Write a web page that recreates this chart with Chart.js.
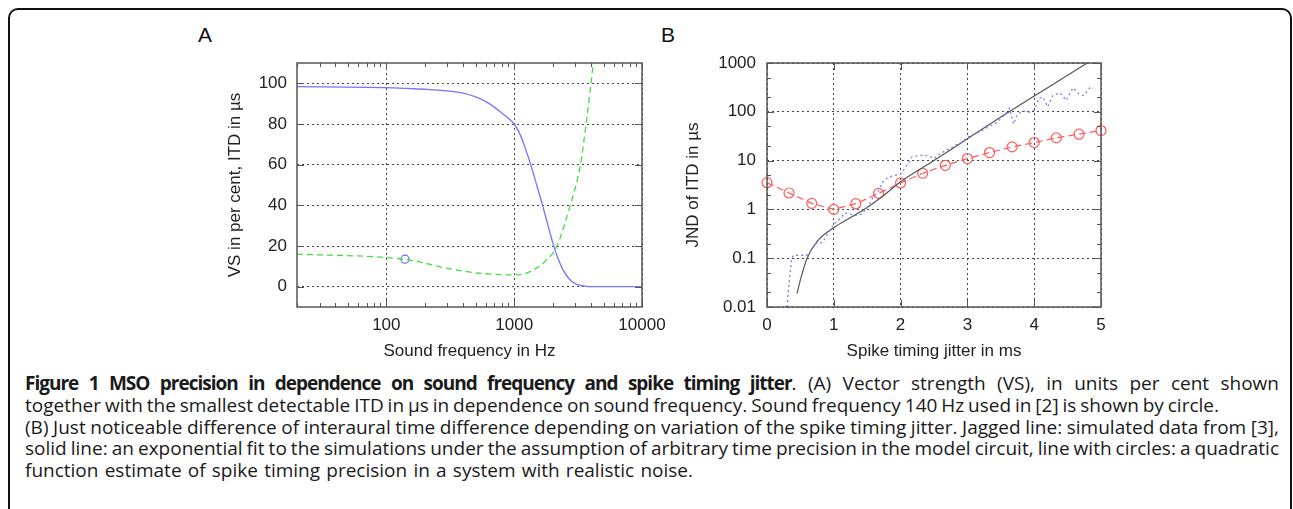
<!DOCTYPE html>
<html>
<head>
<meta charset="utf-8">
<script src="https://cdn.jsdelivr.net/npm/chart.js@4.4.1/dist/chart.umd.min.js"></script>
<style>
  body {
    margin: 0;
    width: 1293px;
    height: 509px;
    position: relative;
    overflow: hidden;
    background: #fff;
    font-family: "Liberation Sans", Arial, sans-serif;
  }
  .frame {
    position: absolute;
    left: 8px;
    top: 8px;
    width: 1284px;
    height: 540px;
    box-sizing: border-box;
    border: 2px solid #111;
    border-radius: 10px;
  }
  .panel {
    position: absolute;
    top: 24px;
    font-size: 21px;
    line-height: 21px;
    color: #111;
  }
  canvas {
    position: absolute;
  }
  #caption {
    position: absolute;
    left: 25px;
    top: 373px;
    font-family: "Open Sans", sans-serif;
    font-size: 19px;
    line-height: 21.8px;
    word-spacing: -1.5px;
    color: #1a1a1a;
  }
  #caption div {
    white-space: nowrap;
    text-align: justify;
    text-align-last: justify;
  }
  #caption b {
    letter-spacing: -1px;
  }
</style>
</head>
<body>
<div class="frame"></div>
<div class="panel" style="left:198px">A</div>
<div class="panel" style="left:661px">B</div>
<canvas id="chartA" width="480" height="330" style="left:200px;top:40px"></canvas>
<canvas id="chartB" width="460" height="330" style="left:670px;top:40px"></canvas>
<div id="caption">
  <div style="width:1254px"><b>Figure 1 MSO precision in dependence on sound frequency and spike timing jitter</b>. (A) Vector strength (VS), in units per cent shown</div>
  <div style="width:1194px">together with the smallest detectable ITD in µs in dependence on sound frequency. Sound frequency 140 Hz used in [2] is shown by circle.</div>
  <div style="width:1254px">(B) Just noticeable difference of interaural time difference depending on variation of the spike timing jitter. Jagged line: simulated data from [3],</div>
  <div style="width:1254px">solid line: an exponential fit to the simulations under the assumption of arbitrary time precision in the model circuit, line with circles: a quadratic</div>
  <div style="width:668px">function estimate of spike timing precision in a system with realistic noise.</div>
</div>
<script>
// panel A: vector strength and ITD vs sound frequency
const freqVS = [20, 100, 200, 300, 400, 500, 600, 700, 800, 900, 1000, 1100, 1200, 1300, 1400, 1500, 1600, 1700, 1800, 1900, 2000, 2100, 2200, 2400, 2600, 2800, 3000, 3300, 3700, 4500, 10000];
const vsValues = [98.4, 97.9, 97.1, 96.3, 95.2, 93.3, 91.0, 88.3, 85.4, 82.8, 80.0, 75.5, 69.5, 63.0, 56.5, 50.0, 44.0, 38.0, 32.3, 26.8, 21.8, 17.5, 14.0, 8.5, 5.0, 2.8, 1.5, 0.6, 0.15, 0, 0];
const freqITD = [20, 100, 162, 295, 538, 1000, 1330, 1800, 2150, 2730, 3280, 3690, 4160, 4400];
const itdValues = [16.0, 14.3, 12.8, 9.1, 6.6, 5.8, 7.4, 13.2, 19.7, 39.5, 59.2, 82.2, 110, 125];
const markerFreq = [140];
const markerITD = [13.5];

const xTicksA = [100, 1000, 10000];
const xMinorA = [20, 30, 40, 50, 60, 70, 80, 90, 200, 300, 400, 500, 600, 700, 800, 900, 2000, 3000, 4000, 5000, 6000, 7000, 8000, 9000];
const yTicksA = [0, 20, 40, 60, 80, 100];

// panel B: JND of ITD vs spike timing jitter
const jitterSim = [0.30, 0.33, 0.37, 0.40, 0.60, 0.67, 0.73, 0.83, 0.90, 1.00, 1.08, 1.17, 1.25, 1.33, 1.42, 1.50, 1.58, 1.67, 1.75, 1.83, 1.92, 2.00, 2.08, 2.17, 2.25, 2.33, 2.42, 2.50, 2.58, 2.67, 2.75, 2.83, 2.92, 3.00, 3.08, 3.17, 3.25, 3.33, 3.42, 3.50, 3.58, 3.63, 3.69, 3.75, 3.83, 3.92, 4.00, 4.07, 4.13, 4.20, 4.28, 4.38, 4.48, 4.58, 4.66, 4.74, 4.84, 4.88];
const jndSim = [0.01, 0.03, 0.1, 0.115, 0.115, 0.15, 0.2, 0.21, 0.3, 0.5, 0.62, 0.85, 0.8, 0.75, 0.8, 1.1, 1.7, 2.4, 4.0, 4.6, 5.0, 5.3, 7.5, 12.0, 12.5, 13.0, 12.5, 11.0, 13.5, 16.0, 18.0, 21.0, 24.0, 30.0, 34.0, 38.0, 44.0, 50.0, 58.0, 72.0, 95.0, 118.0, 56.0, 88.0, 105.0, 98.0, 108.0, 190.0, 200.0, 126.0, 215.0, 245.0, 172.0, 310.0, 240.0, 215.0, 320.0, 300.0];
const jitterFit = [0.45, 0.5, 0.6, 0.75, 1.0, 1.25, 1.5, 1.75, 2.0, 2.5, 3.0, 3.5, 4.0, 4.5, 5.0];
const jndFit = [0.019, 0.036, 0.1, 0.22, 0.42, 0.68, 1.1, 1.95, 3.7, 10, 28, 78, 210, 560, 1500];
const jitterQuad = [0, 0.33, 0.67, 1.0, 1.33, 1.67, 2.0, 2.33, 2.67, 3.0, 3.33, 3.67, 4.0, 4.33, 4.67, 5.0];
const jndQuad = [3.53, 2.17, 1.33, 1.0, 1.31, 2.13, 3.48, 5.5, 8.0, 11.0, 14.6, 19.1, 23.4, 29.2, 34.8, 41.3];

const xTicksB = [0, 1, 2, 3, 4, 5];
const yTicksB = [0.01, 0.1, 1, 10, 100, 1000];
const yMinorB = [0.02, 0.05, 0.2, 0.5, 2, 5, 20, 50, 200, 500];

const toPoints = (xs, ys) => xs.map((x, i) => ({ x: x, y: ys[i] }));

Chart.defaults.font.family = "'Liberation Sans', Arial, sans-serif";
Chart.defaults.font.size = 17;
Chart.defaults.color = "#222";

// frame + inward tick marks like gnuplot
const frameTicks = {
  id: "frameTicks",
  afterDraw(chart, args, opts) {
    const { ctx, chartArea: a, scales } = chart;
    ctx.save();
    ctx.strokeStyle = "#555";
    ctx.lineWidth = 1;
    const xMarks = (vals, len) => {
      (vals || []).forEach((v) => {
        const px = Math.round(scales.x.getPixelForValue(v)) + 0.5;
        ctx.beginPath();
        ctx.moveTo(px, a.bottom);
        ctx.lineTo(px, a.bottom - len);
        ctx.moveTo(px, a.top);
        ctx.lineTo(px, a.top + len);
        ctx.stroke();
      });
    };
    const yMarks = (vals, len) => {
      (vals || []).forEach((v) => {
        const py = Math.round(scales.y.getPixelForValue(v)) + 0.5;
        ctx.beginPath();
        ctx.moveTo(a.left, py);
        ctx.lineTo(a.left + len, py);
        ctx.moveTo(a.right, py);
        ctx.lineTo(a.right - len, py);
        ctx.stroke();
      });
    };
    xMarks(opts.xMajor, 7);
    xMarks(opts.xMinor, 4);
    yMarks(opts.yMajor, 7);
    yMarks(opts.yMinor, 4);
    ctx.lineWidth = 1.5;
    ctx.strokeRect(a.left, a.top, a.width, a.height);
    ctx.restore();
  },
};

const gridOpts = { color: "#444", lineWidth: 1, drawTicks: false };
const borderOpts = { display: false, dash: [2, 3] };

new Chart(document.getElementById("chartA"), {
  type: "line",
  data: {
    datasets: [
      {
        data: toPoints(freqVS, vsValues),
        borderColor: "#7474ff",
        borderWidth: 1.3,
        pointRadius: 0,
        cubicInterpolationMode: "monotone",
      },
      {
        data: toPoints(freqITD, itdValues),
        borderColor: "#3ee03e",
        borderWidth: 1.3,
        borderDash: [6, 4],
        pointRadius: 0,
        cubicInterpolationMode: "monotone",
      },
      {
        data: toPoints(markerFreq, markerITD),
        showLine: false,
        pointRadius: 4,
        pointBorderWidth: 1.2,
        pointBorderColor: "#6a6aff",
        pointBackgroundColor: "rgba(0,0,0,0)",
      },
    ],
  },
  options: {
    responsive: false,
    animation: false,
    devicePixelRatio: 1,
    layout: { padding: { top: 23, right: 38, left: 0, bottom: 0 } },
    scales: {
      x: {
        type: "logarithmic",
        min: 20,
        max: 10000,
        afterBuildTicks: (s) => { s.ticks = xTicksA.map((v) => ({ value: v })); },
        afterFit: (s) => { s.height = 63; },
        ticks: { padding: 8, maxRotation: 0, callback: (v) => String(v) },
        grid: gridOpts,
        border: borderOpts,
        title: { display: true, text: "Sound frequency in Hz", padding: { top: 0, bottom: 8 } },
      },
      y: {
        type: "linear",
        min: -10,
        max: 110,
        afterBuildTicks: (s) => { s.ticks = yTicksA.map((v) => ({ value: v })); },
        afterFit: (s) => { s.width = 97; },
        ticks: { padding: 10, callback: (v) => String(v) },
        grid: gridOpts,
        border: borderOpts,
        title: { display: true, text: "VS in per cent, ITD in µs", padding: { top: 25, bottom: 0 } },
      },
    },
    plugins: {
      legend: { display: false },
      tooltip: { enabled: false },
      frameTicks: { xMajor: xTicksA, xMinor: xMinorA, yMajor: yTicksA },
    },
  },
  plugins: [frameTicks],
});

new Chart(document.getElementById("chartB"), {
  type: "line",
  data: {
    datasets: [
      {
        data: toPoints(jitterSim, jndSim),
        borderColor: "#7a7aff",
        borderWidth: 1.3,
        borderDash: [2, 3],
        pointRadius: 0,
      },
      {
        data: toPoints(jitterFit, jndFit),
        borderColor: "#555",
        borderWidth: 1.2,
        pointRadius: 0,
        cubicInterpolationMode: "monotone",
      },
      {
        data: toPoints(jitterQuad, jndQuad),
        borderColor: "#ff5a5a",
        borderWidth: 1.2,
        borderDash: [7, 4],
        pointRadius: 5,
        pointBorderWidth: 1.2,
        pointBorderColor: "#ff5a5a",
        pointBackgroundColor: "rgba(0,0,0,0)",
        clip: false,
      },
    ],
  },
  options: {
    responsive: false,
    animation: false,
    devicePixelRatio: 1,
    layout: { padding: { top: 23, right: 29, left: 0, bottom: 0 } },
    scales: {
      x: {
        type: "linear",
        min: 0,
        max: 5,
        afterBuildTicks: (s) => { s.ticks = xTicksB.map((v) => ({ value: v })); },
        afterFit: (s) => { s.height = 63; },
        ticks: { padding: 8, maxRotation: 0, callback: (v) => String(v) },
        grid: gridOpts,
        border: borderOpts,
        title: { display: true, text: "Spike timing jitter in ms", padding: { top: 0, bottom: 8 } },
      },
      y: {
        type: "logarithmic",
        min: 0.01,
        max: 1000,
        afterBuildTicks: (s) => { s.ticks = yTicksB.map((v) => ({ value: v })); },
        afterFit: (s) => { s.width = 97; },
        ticks: { padding: 11, callback: (v) => String(v) },
        grid: gridOpts,
        border: borderOpts,
        title: { display: true, text: "JND of ITD in µs", padding: { top: 13, bottom: 0 } },
      },
    },
    plugins: {
      legend: { display: false },
      tooltip: { enabled: false },
      frameTicks: { xMajor: xTicksB, yMajor: yTicksB, yMinor: yMinorB },
    },
  },
  plugins: [frameTicks],
});
</script>
</body>
</html>
